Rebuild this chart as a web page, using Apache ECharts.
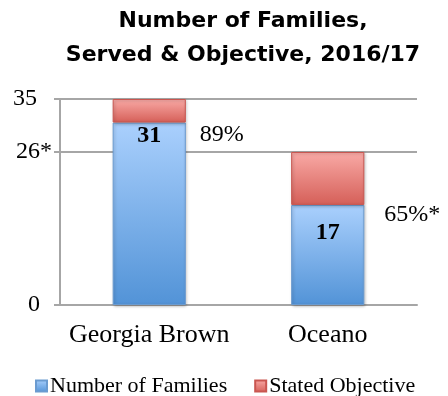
<!DOCTYPE html>
<html><head><meta charset="utf-8">
<script src="https://cdn.jsdelivr.net/npm/echarts@6/dist/echarts.min.js"></script>
<style>html,body{margin:0;padding:0;background:#fff}#c{width:448px;height:396px}</style>
</head><body><div id="c"></div>
<script>
const categories = ['Georgia Brown', 'Oceano'];
const familiesServed = [31, 17];
const statedObjective = [35, 26];
const percentLabels = ['89%', '65%*'];
const yTickValues = [0, 26, 35];
const yTickLabels = ['0', '26*', '35'];

const SERIF = 'Liberation Serif';
const GRID = '#a6a6a6';
const chart = echarts.init(document.getElementById('c'), null, {renderer: 'canvas'});

const servedLabelDist = [1, 16];
const pctLabelCfg = [
  {distance: 14, offset: [0, 24]},
  {distance: 20, offset: [0, 36]}
];
const yRich = {'35': 'a', '26*': 'b', '0': 'c'};

const blueGrad = new echarts.graphic.LinearGradient(0, 0, 0, 1, [
  {offset: 0, color: '#aad0fd'}, {offset: 1, color: '#5293d7'}]);
const redGrad = new echarts.graphic.LinearGradient(0, 0, 0, 1, [
  {offset: 0, color: '#f9aaa6'}, {offset: 1, color: '#d55f58'}]);

chart.setOption({
  animation: false,
  title: {
    text: 'Number of Families,\nServed & Objective, 2016/17',
    left: 243, top: 4, textAlign: 'center', padding: 0,
    textStyle: {fontFamily: 'DejaVu Sans', fontWeight: 'bold', fontSize: 22, lineHeight: 34, color: '#000'}
  },
  grid: {left: 60, right: 31, top: 99, bottom: 91, containLabel: false},
  legend: {
    data: ['Number of Families', 'Stated Objective'],
    left: 30, top: 370, itemWidth: 11, itemHeight: 11, itemGap: 27, icon: 'rect',
    textStyle: {fontFamily: SERIF, fontSize: 22, color: '#000', padding: [0, 0, 0, -2]}
  },
  xAxis: {
    type: 'category', data: categories,
    axisLine: {lineStyle: {color: GRID, width: 2}},
    axisTick: {length: 6, lineStyle: {color: GRID, width: 2}},
    axisLabel: {interval: 0, hideOverlap: false, fontFamily: SERIF, fontSize: 26, color: '#000', margin: 17}
  },
  yAxis: {
    type: 'value', min: 0, max: 35,
    axisLine: {show: true, lineStyle: {color: GRID, width: 2}},
    axisTick: {show: true, customValues: yTickValues, length: 6, lineStyle: {color: GRID, width: 2}},
    splitLine: {show: true, lineStyle: {color: GRID, width: 2}},
    axisLabel: {
      customValues: yTickValues, margin: 8, fontFamily: SERIF, fontSize: 24, color: '#000',
      formatter: v => {
        const t = yTickLabels[yTickValues.indexOf(v)];
        return '{' + yRich[t] + '|' + t + '}';
      },
      rich: {
        a: {fontFamily: SERIF, fontSize: 24, color: '#000', padding: [0, 15, 0, 0]},
        b: {fontFamily: SERIF, fontSize: 24, color: '#000'},
        c: {fontFamily: SERIF, fontSize: 24, color: '#000', padding: [0, 12, 0, 0]}
      }
    }
  },
  series: [
    {
      name: 'Number of Families', type: 'bar', stack: 'total', barWidth: '41%',
      itemStyle: {color: blueGrad, borderColor: '#6b9bd0', borderWidth: 1,
        shadowBlur: 3, shadowColor: 'rgba(0,0,0,0.25)', shadowOffsetX: 1, shadowOffsetY: 1},
      label: {show: true, position: 'insideTop', fontFamily: SERIF, fontWeight: 'bold', fontSize: 24, color: '#000'},
      data: familiesServed.map((v, i) => ({value: v, label: {distance: servedLabelDist[i]}}))
    },
    {
      name: 'Stated Objective', type: 'bar', stack: 'total', barWidth: '41%',
      itemStyle: {color: redGrad, borderColor: '#c95650', borderWidth: 1,
        shadowBlur: 3, shadowColor: 'rgba(0,0,0,0.25)', shadowOffsetX: 1, shadowOffsetY: 1},
      label: {show: true, position: 'right', fontFamily: SERIF, fontSize: 24, color: '#000',
        formatter: p => percentLabels[p.dataIndex]},
      data: statedObjective.map((v, i) => ({value: v - familiesServed[i],
        label: {distance: pctLabelCfg[i].distance, offset: pctLabelCfg[i].offset}}))
    }
  ]
});
</script></body></html>
